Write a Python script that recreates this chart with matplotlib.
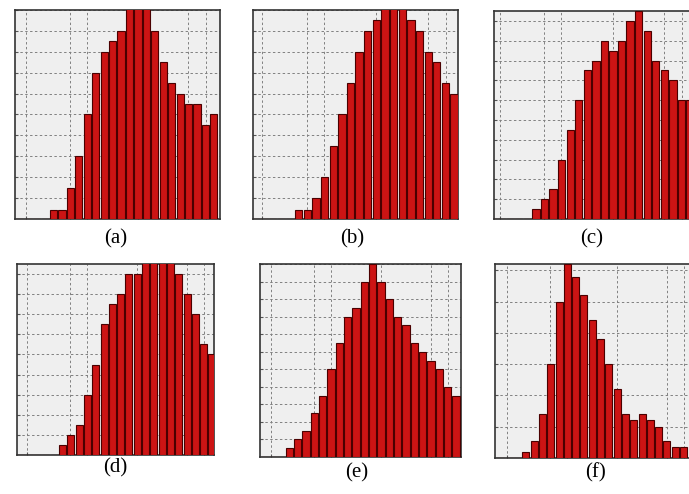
import numpy as np
import matplotlib
matplotlib.use("Agg")
import matplotlib.pyplot as plt

# bin counts (grid units), leading zeros are empty bins
counts_a = [0, 0, 0, 0, 0.45, 0.45, 1.5, 3.0, 5.0, 7.0, 8.0, 8.5, 9.0, 10.5, 10.5, 10.5,
            9.0, 7.5, 6.5, 6.0, 5.5, 5.5, 4.5, 5.0]
counts_b = [0, 0, 0, 0, 0, 0.45, 0.45, 1.0, 2.0, 3.5, 5.0, 6.5, 8.0, 9.0, 9.5, 10.5, 10.5,
            10.5, 9.5, 9.0, 8.0, 7.5, 6.5, 6.0]
counts_c = [0, 0, 0, 0, 0, 0.5, 1.0, 1.5, 3.0, 4.5, 6.0, 7.5, 8.0, 9.0, 8.5, 9.0, 10.0,
            10.5, 9.5, 8.0, 7.5, 7.0, 6.0, 6.0]
counts_d = [0, 0, 0, 0, 0, 0.5, 1.0, 1.5, 3.0, 4.5, 6.5, 7.5, 8.0, 9.0, 9.0, 10.0, 10.0,
            10.0, 10.0, 9.0, 8.0, 7.0, 5.5, 5.0]
counts_e = [0, 0, 0, 0.5, 1.0, 1.5, 2.5, 3.5, 5.0, 6.5, 8.0, 8.5, 10.0, 11.0, 10.0, 9.0,
            8.0, 7.5, 6.5, 6.0, 5.5, 5.0, 4.0, 3.5]
counts_f = [0, 0, 0, 0.2, 0.55, 1.4, 3.0, 5.0, 6.2, 5.8, 5.2, 4.4, 3.8, 3.0, 2.2, 1.4, 1.2,
            1.4, 1.2, 1.0, 0.55, 0.35, 0.35]
labels = ["(a)", "(b)", "(c)", "(d)", "(e)", "(f)"]
ymax = [10, 10, 10.5, 9.5, 11, 6.2]
xlims = [(-0.15, 24.15), (0.13, 23.88), (0.53, 23.3), (-0.06, 23.67), (-0.1, 24.03), (-0.29, 23.08)]
vgrid = [1.2, 6.35, 8.4, 14.4, 20.4, 22.5]

W, H = 689, 494
# axes boxes in pixels: left, top, right, bottom
boxes = [(15, 10, 220, 219), (253, 10, 458, 219), (494, 11, 689, 219),
         (17, 264, 214, 455), (260, 264, 461, 457), (495, 264, 689, 458)]
label_pos = [(116, 239), (352, 239), (592, 239), (115, 468), (357, 473), (595, 473)]

fig = plt.figure(figsize=(W / 100, H / 100), dpi=100)
all_counts = [counts_a, counts_b, counts_c, counts_d, counts_e, counts_f]

for k, counts in enumerate(all_counts):
    l, t, r, b = boxes[k]
    ax = fig.add_axes([l / W, 1 - b / H, (r - l) / W, (b - t) / H])
    ax.set_facecolor("#efefef")
    x = np.arange(len(counts))
    ax.bar(x, counts, width=0.85, align="edge", color="#cc1414",
           edgecolor="#4a0000", linewidth=0.8, zorder=3)
    ax.set_xlim(*xlims[k])
    ax.set_ylim(0, ymax[k])
    ax.set_xticks(vgrid)
    ax.set_yticks(np.arange(1, int(ymax[k]) + 1))
    ax.grid(True, color="#808080", linestyle=(0, (2.5, 2.5)), linewidth=0.7, zorder=1)
    ax.tick_params(direction="in", length=2, labelleft=False, labelbottom=False,
                   color="#555555")
    for s in ax.spines.values():
        s.set_color("#333333")
        s.set_linewidth(1.2)
    if k in (2, 5):
        ax.spines["right"].set_visible(False)
    lx, ly = label_pos[k]
    fig.text(lx / W, 1 - ly / H, labels[k], ha="center", va="center",
             fontsize=15, family="Liberation Serif")

fig.savefig("out.png", dpi=100)
